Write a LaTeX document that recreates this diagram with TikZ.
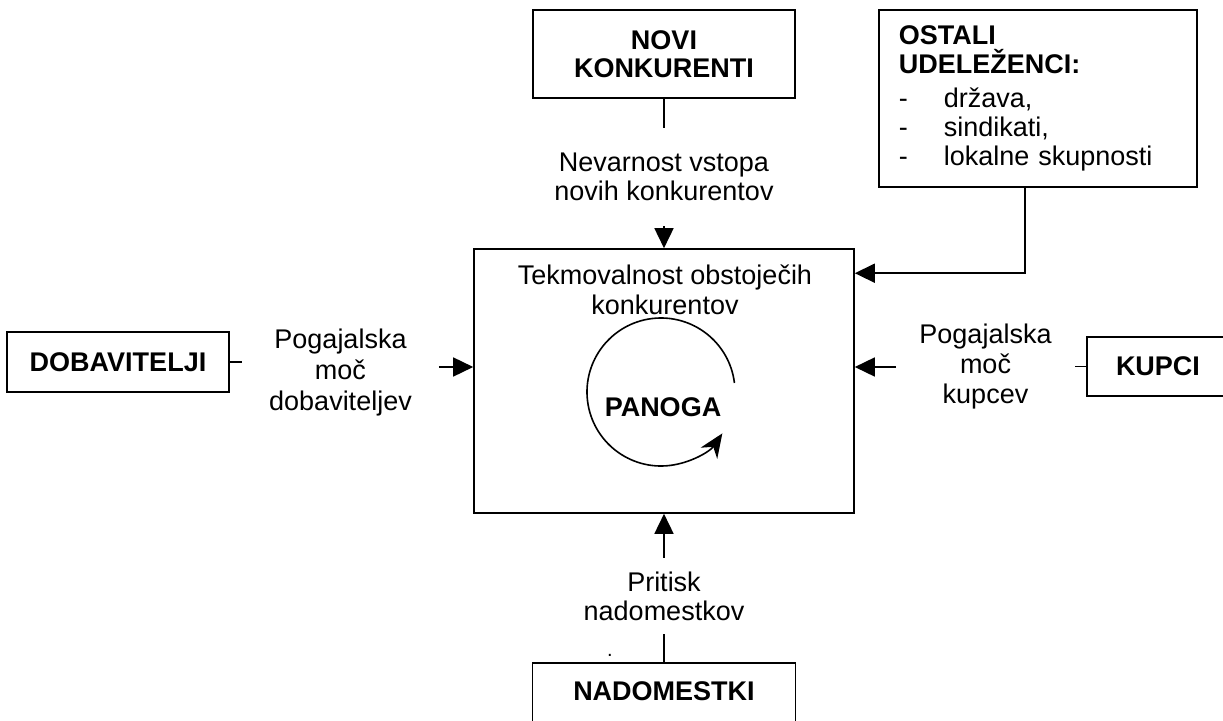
\documentclass[tikz,border=0pt]{standalone}
\usepackage{fontspec}
\setmainfont{Liberation Sans}
\usetikzlibrary{positioning,arrows.meta}

\begin{document}
\begin{tikzpicture}[x=0.5pt,y=0.5pt,line width=0.8pt,
    font=\fontsize{13.5}{14.5}\selectfont,
    box/.style={draw,inner sep=0pt,align=center,font=\fontsize{13.5}{14}\selectfont\bfseries},
    lbl/.style={inner sep=0pt,align=center},
    arr/.style={-{Triangle[length=10pt,width=9.5pt]}}]
  \useasboundingbox (0,0) rectangle (1223,720);
  \node[draw,minimum width=190pt,minimum height=132pt] (main) at (664,339) {};
  \node[lbl,font=\fontsize{13.5}{15}\selectfont] (tekmo) at (665,430) {Tekmovalnost obstoječih\\konkurentov};
  \node[font=\fontsize{13.5}{14}\selectfont\bfseries] (panoga) at (663,313) {PANOGA};
  \coordinate (hub) at (661,328);
  \draw[-{Stealth[length=12pt,width=10pt]}] ([shift={(7:74)}]hub) arc[start angle=7,end angle=326,radius=74];

  \node[lbl,minimum height=48.5pt,above=11pt of main] (nevarnost) {Nevarnost vstopa\\novih konkurentov};
  \node[box,minimum width=131pt,minimum height=44pt,above=14.5pt of nevarnost] (novi) {NOVI\\KONKURENTI};
  \node[lbl,minimum height=37.5pt,below=22pt of main] (pritisk) {Pritisk\\nadomestkov};
  \node[box,minimum width=131.5pt,text height=18.5pt,text depth=25.5pt,below=14pt of pritisk] (nadom) {NADOMESTKI};
  \node[inner sep=0pt,font=\fontsize{10}{10}\selectfont] (pika) at (610,65) {.};

  \node[box,minimum width=111pt,minimum height=30pt] (dob) at (118,358) {DOBAVITELJI};
  \node[lbl,minimum width=97.5pt,font=\fontsize{13.5}{15.5}\selectfont] (pogdob) at (340.5,347) {Pogajalska\\moč\\dobaviteljev};
  \node[box,minimum width=71pt,minimum height=29.5pt] (kupci) at (1158,353.5) {KUPCI};
  \node[lbl,minimum width=88.5pt,font=\fontsize{13.5}{15}\selectfont] (pogkup) at (985.5,353) {Pogajalska\\moč\\kupcev};
  \node[draw,anchor=north west,minimum height=88.5pt,inner xsep=10pt,inner ysep=0pt,text width=139pt,align=left] (ostali) at (878,711)
    {\textbf{OSTALI}\\\textbf{UDELEŽENCI:}\\[2.5pt]\makebox[22.5pt][l]{-}država,\\\makebox[22.5pt][l]{-}sindikati,\\\makebox[22.5pt][l]{-}lokalne skupnosti};

  \draw (novi) -- (nevarnost);
  \draw[arr] (nevarnost) -- (main);
  \draw (nadom) -- (pritisk);
  \draw[arr] (pritisk) -- (main);
  \draw (dob) -- (dob -| pogdob.west);
  \draw[arr] ([yshift=3pt]pogdob.east) -- ([yshift=3pt]pogdob.east -| main.west);
  \draw (kupci) -- (kupci -| pogkup.east);
  \draw[arr] (pogkup) -- (pogkup -| main.east);
  \draw[arr] ([xshift=-6.5pt]ostali.south) |- ([yshift=-12.5pt]main.north east);
\end{tikzpicture}
\end{document}
